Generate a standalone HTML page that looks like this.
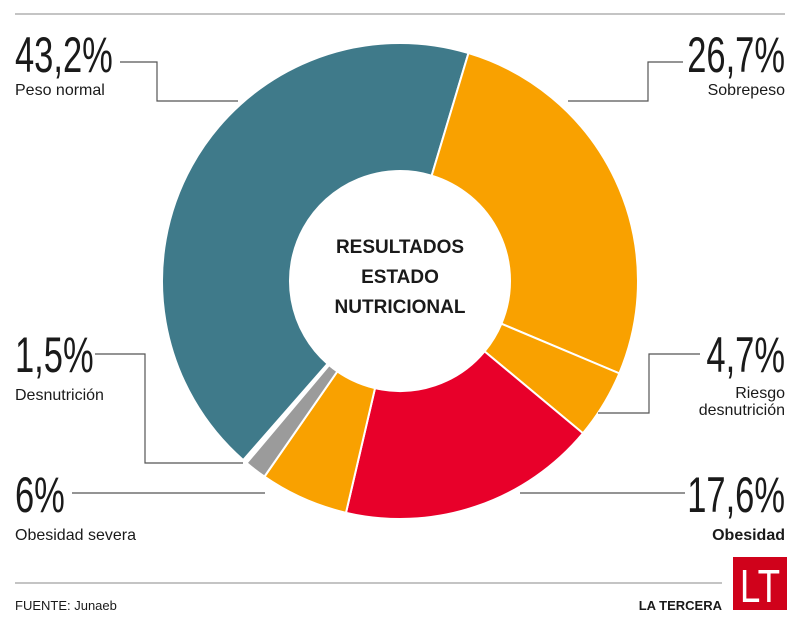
<!DOCTYPE html>
<html><head><meta charset="utf-8"><style>
html,body{margin:0;padding:0;background:#fff;}
body{width:800px;height:626px;position:relative;overflow:hidden;}
text{font-family:"Liberation Sans",sans-serif;fill:#1a1a1a;}
</style></head><body>
<svg width="800" height="626" style="position:absolute;left:0;top:0">
<line x1="15" y1="14" x2="785" y2="14" stroke="#888" stroke-width="1"/>
<line x1="15" y1="583" x2="722" y2="583" stroke="#888" stroke-width="1"/>
<g id="donut"></g>
<g fill="none" stroke="#555" stroke-width="1.2">
<polyline points="120,62 157,62 157,101 238,101"/>
<polyline points="683,62 648,62 648,101 568,101"/>
<polyline points="95,354 145,354 145,463 243,463"/>
<polyline points="700,354 649,354 649,413 598,413"/>
<polyline points="72,493 265,493"/>
<polyline points="520,493 685,493"/>
</g>
<g font-size="50">
<text transform="translate(15 72) scale(0.69 1)">43,2%</text>
<text transform="translate(785 72) scale(0.69 1)" text-anchor="end">26,7%</text>
<text transform="translate(15 372) scale(0.69 1)">1,5%</text>
<text transform="translate(785 372) scale(0.69 1)" text-anchor="end">4,7%</text>
<text transform="translate(15 512) scale(0.69 1)">6%</text>
<text transform="translate(785 512) scale(0.69 1)" text-anchor="end">17,6%</text>
</g>
<g font-size="16">
<text x="15" y="95">Peso normal</text>
<text x="785" y="95" text-anchor="end">Sobrepeso</text>
<text x="15" y="400">Desnutrición</text>
<text x="785" y="398" text-anchor="end">Riesgo</text>
<text x="785" y="415" text-anchor="end">desnutrición</text>
<text x="15" y="540">Obesidad severa</text>
<text x="785" y="540" text-anchor="end" font-weight="bold">Obesidad</text>
</g>
<text x="15" y="610" font-size="13">FUENTE: Junaeb</text>
<text x="722" y="610" font-size="13" font-weight="bold" text-anchor="end">LA TERCERA</text>
<text x="400" y="253" text-anchor="middle" font-weight="bold" font-size="19" fill="#111">RESULTADOS</text>
<text x="400" y="283" text-anchor="middle" font-weight="bold" font-size="19" fill="#111">ESTADO</text>
<text x="400" y="313" text-anchor="middle" font-weight="bold" font-size="19" fill="#111">NUTRICIONAL</text>
<rect x="733" y="557" width="54" height="53" fill="#d0021b"/>
<text transform="translate(760 602) scale(0.8 1)" text-anchor="middle" font-size="46" style="fill:#fff">LT</text>
</svg>
<script>
(function(){
var cx=400,cy=281,R=238,r=110;
var segs=[[43.2,"#3f7a8a"],[26.7,"#f9a100"],[4.7,"#f9a100"],[17.6,"#e8002a"],[6,"#f9a100"],[1.5,"#9b9b9b"]];
var a=-138.8,g=document.getElementById("donut"),h="";
function p(rad,ang){var t=ang*Math.PI/180;return [(cx+rad*Math.sin(t)).toFixed(2),(cy-rad*Math.cos(t)).toFixed(2)];}
segs.forEach(function(s){var b=a+s[0]*3.6;var l=(b-a)>180?1:0;
var A=p(R,a),B=p(R,b),C=p(r,b),D=p(r,a);
h+='<path d="M'+A+' A'+R+' '+R+' 0 '+l+' 1 '+B+' L'+C+' A'+r+' '+r+' 0 '+l+' 0 '+D+' Z" fill="'+s[1]+'" stroke="#fff" stroke-width="2"/>';a=b;});
g.innerHTML=h;
})();
</script>
</body></html>
